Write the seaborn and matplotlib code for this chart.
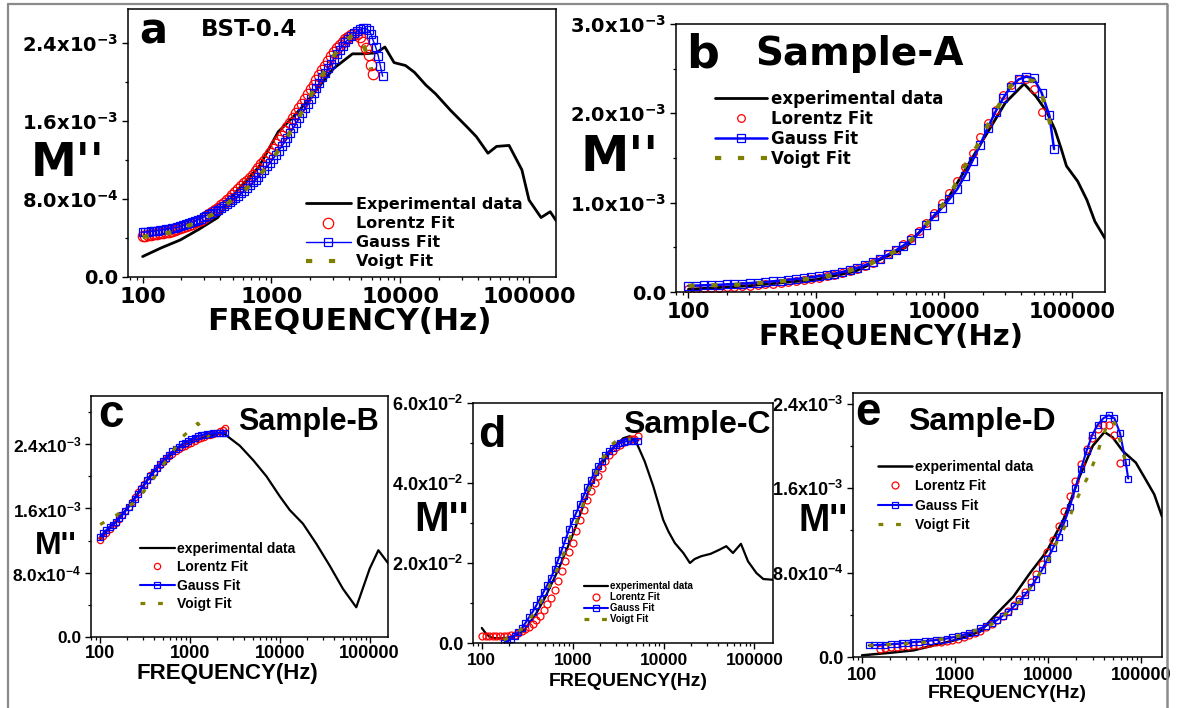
import numpy as np
import matplotlib
matplotlib.use("Agg")
import matplotlib.pyplot as plt
import seaborn as sns
from matplotlib.ticker import MultipleLocator, NullFormatter
from matplotlib.font_manager import FontProperties
from matplotlib.lines import Line2D

nan = np.nan

# ---------------- panel a : BST-0.4 (M'' in 1e-3) ----------------
exp_f_a = [100, 140, 196, 274, 383, 535, 800, 1130, 1470, 1920, 2500, 3040, 4260, 5200, 6500, 7600,
           8960, 11000, 12900, 15800, 18800, 24600, 33000, 39000, 48000, 56000, 70000, 88000, 100000,
           124000, 146000, 162000]
exp_m_a = [0.21, 0.30, 0.38, 0.49, 0.61, 0.88, 1.13, 1.49, 1.64, 1.81, 2.0, 2.14, 2.29, 2.29, 2.30, 2.36,
           2.20, 2.17, 2.10, 1.97, 1.88, 1.71, 1.54, 1.44, 1.27, 1.34, 1.35, 1.10, 0.79,
           0.61, 0.67, 0.58]
fit_f_a = [100, 105, 111, 117, 123, 129, 136, 143, 151, 159,
           168, 177, 186, 196, 206, 217, 229, 241, 254, 268,
           282, 297, 312, 329, 346, 365, 384, 405, 426, 449,
           473, 498, 524, 552, 582, 613, 645, 679, 715, 753,
           793, 835, 880, 927, 976, 1028, 1083, 1140, 1201, 1265,
           1332, 1403, 1477, 1556, 1638, 1725, 1817, 1914, 2016, 2123,
           2236, 2355, 2480, 2612, 2751, 2897, 3051, 3213, 3384, 3564,
           3754, 3953, 4164, 4385, 4619, 4850, 5124, 5400, 5683, 5950,
           6150, 6450, 6750, 7000, 7300]
lor_a = [0.42, 0.425, 0.43, 0.435, 0.44, 0.445, 0.45, 0.455, 0.46, 0.465,
         0.47, 0.48, 0.49, 0.50, 0.51, 0.52, 0.53, 0.545, 0.56, 0.575,
         0.59, 0.61, 0.63, 0.65, 0.67, 0.69, 0.71, 0.735, 0.76, 0.785,
         0.81, 0.84, 0.87, 0.90, 0.93, 0.96, 0.99, 1.02, 1.05, 1.085,
         1.12, 1.155, 1.19, 1.23, 1.27, 1.315, 1.36, 1.405, 1.45, 1.495,
         1.54, 1.585, 1.63, 1.68, 1.73, 1.78, 1.83, 1.88, 1.93, 1.975,
         2.02, 2.07, 2.12, 2.17, 2.22, 2.265, 2.31, 2.345, 2.38, 2.41,
         2.44, 2.46, 2.48, 2.49, 2.49, 2.46, 2.41, 2.35, 2.28, 2.18,
         2.08, nan, nan, nan, nan]
gau_a = [0.46, 0.462, 0.465, 0.468, 0.47, 0.475, 0.48, 0.485, 0.49, 0.495,
         0.50, 0.505, 0.51, 0.52, 0.53, 0.54, 0.55, 0.56, 0.57, 0.585,
         0.60, 0.615, 0.63, 0.645, 0.66, 0.675, 0.69, 0.71, 0.73, 0.75,
         0.77, 0.79, 0.81, 0.835, 0.86, 0.885, 0.91, 0.94, 0.97, 1.0,
         1.03, 1.065, 1.10, 1.135, 1.17, 1.21, 1.25, 1.295, 1.34, 1.385,
         1.43, 1.48, 1.53, 1.58, 1.63, 1.68, 1.73, 1.78, 1.83, 1.885,
         1.94, 1.995, 2.05, 2.095, 2.14, 2.19, 2.24, 2.285, 2.33, 2.37,
         2.41, 2.44, 2.47, 2.50, 2.52, 2.54, 2.55, 2.55, 2.53, 2.49,
         2.43, 2.36, 2.27, 2.17, 2.06]
voi_a = [0.41, 0.415, 0.42, 0.425, 0.43, 0.435, 0.44, 0.445, 0.45, 0.455,
         0.46, 0.47, 0.48, 0.49, 0.50, 0.515, 0.53, 0.54, 0.55, 0.565,
         0.58, 0.595, 0.61, 0.625, 0.64, 0.66, 0.68, 0.70, 0.72, 0.745,
         0.77, 0.79, 0.81, 0.835, 0.86, 0.885, 0.91, 0.94, 0.97, 1.0,
         1.03, 1.065, 1.10, 1.14, 1.18, 1.22, 1.26, 1.305, 1.35, 1.395,
         1.44, 1.49, 1.54, 1.59, 1.64, 1.695, 1.75, 1.805, 1.86, 1.915,
         1.97, 2.02, 2.07, 2.12, 2.17, 2.22, 2.27, 2.31, 2.35, 2.385,
         2.42, 2.445, 2.47, 2.475, 2.48, 2.45, 2.40, 2.32, 2.24, 2.13,
         nan, nan, nan, nan, nan]

# ---------------- panel b : Sample-A (1e-3) ----------------
exp_f_b = [100, 300, 1000, 2000, 5000, 10000, 15000, 20000, 30000, 42000, 52000, 63000, 73000, 82000,
           90000, 110000, 130000, 150000, 180000]
exp_m_b = [0.03, 0.07, 0.14, 0.23, 0.50, 0.98, 1.40, 1.70, 2.12, 2.33, 2.19, 2.02, 1.82, 1.60,
           1.41, 1.24, 1.03, 0.79, 0.60]
fit_f_b = [100, 115, 132, 151, 174, 200, 229, 263, 302, 347, 398, 457, 525, 603, 692, 794, 912, 1047, 1202,
           1380, 1585, 1820, 2089, 2399, 2754, 3162, 3631, 4169, 4786, 5495, 6310, 7244, 8318, 9550, 10965,
           12589, 14454, 16596, 19055, 21878, 25119, 28840, 33113, 38019, 43652, 50119, 57544, 66069, 72000]
lor_b = [0.03, 0.035, 0.04, 0.045, 0.05, 0.055, 0.06, 0.066, 0.072, 0.079, 0.086, 0.094, 0.10, 0.11, 0.12,
         0.13, 0.145, 0.16, 0.175, 0.19, 0.21, 0.235, 0.26, 0.29, 0.33, 0.37, 0.42, 0.47, 0.535, 0.60, 0.68,
         0.77, 0.88, 1.0, 1.11, 1.24, 1.40, 1.56, 1.73, 1.89, 2.04, 2.20, 2.32, 2.38, 2.38, 2.27, 2.01, nan, nan]
gau_b = [0.07, 0.072, 0.075, 0.078, 0.081, 0.085, 0.089, 0.094, 0.10, 0.106, 0.112, 0.12, 0.128, 0.137, 0.146,
         0.155, 0.166, 0.178, 0.19, 0.205, 0.222, 0.245, 0.27, 0.30, 0.335, 0.375, 0.42, 0.465, 0.52, 0.58,
         0.66, 0.75, 0.85, 0.94, 1.04, 1.15, 1.30, 1.47, 1.65, 1.84, 2.02, 2.17, 2.30, 2.38, 2.41, 2.39, 2.23,
         1.98, 1.60]
voi_b = [0.07, 0.072, 0.073, 0.075, 0.077, 0.079, 0.08, 0.085, 0.09, 0.10, 0.105, 0.11, 0.12, 0.127, 0.135,
         0.142, 0.152, 0.165, 0.178, 0.193, 0.215, 0.24, 0.265, 0.295, 0.33, 0.37, 0.415, 0.46, 0.515, 0.58,
         0.68, 0.76, 0.86, 0.96, 1.08, 1.24, 1.41, 1.55, 1.69, 1.87, 2.03, 2.17, 2.31, 2.36, 2.38, 2.36, 2.22,
         1.92, 1.72]

# ---------------- panel c : Sample-B (1e-3) ----------------
exp_f_c = [100, 200, 400, 800, 1500, 2340, 3590, 5060, 7100, 10000, 12900, 18100, 25500, 35800, 50400,
           70900, 100000, 125000, 160000]
exp_m_c = [1.22, 1.60, 2.08, 2.38, 2.50, 2.54, 2.38, 2.20, 2.0, 1.75, 1.58, 1.41, 1.16, 0.89, 0.60,
           0.37, 0.85, 1.08, 0.92]
fit_f_c = [100, 108, 117, 127, 138, 150, 162, 176, 191, 207, 224, 243, 263, 285, 309, 335, 363, 394, 427, 462,
           501, 543, 589, 638, 692, 750, 813, 881, 955, 1035, 1122, 1216, 1318, 1429, 1549, 1679, 1820, 1972,
           2138, 2317, 2450]
lor_c = [1.21, 1.26, 1.30, 1.35, 1.39, 1.42, 1.47, 1.52, 1.57, 1.62, 1.68, 1.74, 1.80, 1.85, 1.91, 1.96, 2.02,
         2.06, 2.10, 2.14, 2.18, 2.22, 2.25, 2.28, 2.31, 2.34, 2.36, 2.38, 2.40, 2.42, 2.44, 2.46, 2.48, 2.49,
         2.51, 2.52, 2.53, 2.54, 2.56, 2.58, 2.60]
gau_c = [1.25, 1.29, 1.33, 1.37, 1.40, 1.43, 1.48, 1.52, 1.57, 1.62, 1.67, 1.72, 1.78, 1.84, 1.89, 1.95, 2.0,
         2.05, 2.10, 2.15, 2.19, 2.23, 2.27, 2.31, 2.34, 2.37, 2.40, 2.42, 2.44, 2.46, 2.48, 2.50, 2.51, 2.52,
         2.53, 2.53, 2.54, 2.54, 2.54, 2.54, 2.54]
voi_f_c = [100, 153, 235, 345, 465, 625, 820, 1220, 1630]
voi_c = [1.40, 1.52, 1.67, 1.88, 2.09, 2.29, 2.49, 2.66, 2.49]

# ---------------- panel d : Sample-C (1e-2) ----------------
exp_f_d = [100, 110, 122, 140, 170, 200, 250, 300, 400, 500, 700, 1000, 1500, 2000, 2700, 3600, 4240, 5050,
           6200, 7700, 9900, 11300, 13300, 16500, 19500, 22000, 26000, 33000, 41000, 49000, 58000, 71000,
           85000, 105000, 125000, 160000]
exp_m_d = [0.375, 0.25, 0.15, 0.12, 0.12, 0.14, 0.22, 0.35, 0.75, 1.15, 1.85, 2.7, 3.8, 4.4, 4.85, 5.12, 5.17,
           5.0, 4.54, 3.92, 3.08, 2.79, 2.5, 2.25, 2.0, 2.1, 2.17, 2.23, 2.33, 2.42, 2.25, 2.48, 2.04, 1.75,
           1.6, 1.58]
fit_f_d = [100, 110, 120, 132, 145, 158, 174, 191, 209, 229, 251, 275, 302, 331, 363, 398, 437, 479, 525, 575,
           631, 692, 759, 832, 912, 1000, 1096, 1202, 1318, 1445, 1585, 1738, 1905, 2089, 2291, 2512, 2754,
           3020, 3311, 3631, 3981, 4365, 4786, 5248]
lor_d = [0.18, 0.18, 0.18, 0.18, 0.18, 0.18, 0.18, 0.18, 0.19, 0.21, 0.25, 0.29, 0.35, 0.40, 0.48, 0.58, 0.67,
         0.82, 0.98, 1.13, 1.33, 1.54, 1.80, 2.06, 2.28, 2.50, 2.79, 3.08, 3.33, 3.58, 3.79, 3.99, 4.17, 4.38,
         4.55, 4.70, 4.80, 4.90, 4.96, 5.02, 5.06, 5.09, 5.11, 5.18]
gau_d = [nan, nan, nan, nan, nan, nan, 0.0, 0.04, 0.10, 0.18, 0.27, 0.37, 0.50, 0.64, 0.78, 0.94, 1.11, 1.28,
         1.45, 1.62, 1.84, 2.08, 2.33, 2.58, 2.84, 3.06, 3.26, 3.47, 3.68, 3.89, 4.07, 4.27, 4.43, 4.55, 4.70,
         4.80, 4.87, 4.95, 5.00, 5.03, 5.05, 5.06, 5.06, 5.06]
voi_d = [nan, nan, nan, nan, nan, nan, 0.07, 0.12, 0.17, 0.20, 0.28, 0.36, 0.46, 0.58, 0.70, 0.83, 0.99, 1.15,
         1.32, 1.50, 1.68, 1.89, 2.12, 2.35, 2.58, 2.80, 3.01, 3.26, 3.50, 3.72, 3.94, 4.14, 4.39, 4.55, 4.75,
         4.92, 4.98, 5.05, 5.08, 5.09, 5.10, 5.10, nan, nan]

# ---------------- panel e : Sample-D (1e-3) ----------------
exp_f_e = [100, 200, 358, 1000, 1850, 2790, 4200, 6300, 9600, 14500, 21700, 30000, 40000, 49000, 63000,
           87000, 111000, 137000, 166000]
exp_m_e = [0.016, 0.04, 0.063, 0.16, 0.24, 0.41, 0.57, 0.79, 1.0, 1.30, 1.71, 2.0, 2.13, 2.08, 1.95,
           1.84, 1.68, 1.54, 1.33]
fit_f_e = [118, 135, 155, 178, 205, 235, 270, 310, 356, 408, 469, 538, 618, 709, 814, 935, 1073, 1232, 1414,
           1624, 1864, 2140, 2457, 2821, 3238, 3718, 4268, 4900, 5626, 6459, 7415, 8513, 9773, 11220, 12882,
           14789, 16979, 19493, 22379, 25693, 29497, 33864, 38878, 44635, 51245, 58832, 67543, 72000]
lor_e = [nan, nan, 0.08, 0.085, 0.09, 0.095, 0.10, 0.105, 0.11, 0.115, 0.12, 0.13, 0.14, 0.145, 0.155, 0.165,
         0.175, 0.19, 0.21, 0.23, 0.25, 0.28, 0.31, 0.35, 0.39, 0.44, 0.49, 0.55, 0.62, 0.71, 0.79, 0.88, 0.99,
         1.11, 1.24, 1.38, 1.52, 1.67, 1.83, 1.97, 2.07, 2.16, 2.20, 2.20, 2.10, 1.84, nan, nan]
gau_e = [0.11, 0.112, 0.115, 0.118, 0.12, 0.125, 0.13, 0.135, 0.14, 0.145, 0.15, 0.155, 0.16, 0.165, 0.175,
         0.185, 0.195, 0.21, 0.225, 0.24, 0.27, 0.295, 0.32, 0.35, 0.39, 0.43, 0.48, 0.53, 0.59, 0.66, 0.74,
         0.82, 0.93, 1.03, 1.14, 1.27, 1.42, 1.60, 1.78, 1.95, 2.10, 2.20, 2.26, 2.29, 2.26, 2.12, 1.85, 1.69]
voi_e = [0.11, 0.112, 0.115, 0.118, 0.12, 0.123, 0.125, 0.128, 0.13, 0.135, 0.14, 0.15, 0.16, 0.17, 0.18,
         0.19, 0.20, 0.22, 0.235, 0.25, 0.265, 0.28, 0.31, 0.35, 0.38, 0.43, 0.48, 0.53, 0.59, 0.66, 0.74,
         0.82, 0.90, 1.00, 1.13, 1.22, 1.33, 1.46, 1.58, 1.68, 1.80, 1.94, 2.10, 2.24, 2.22, 2.05, 1.84, nan]

x_ticks = [100, 1000, 10000, 100000]
x_labels = ["100", "1000", "10000", "100000"]
lab_24 = ["0.0", r"8.0x10$^{-4}$", r"1.6x10$^{-3}$", r"2.4x10$^{-3}$"]
lab_30 = ["0.0", r"1.0x10$^{-3}$", r"2.0x10$^{-3}$", r"3.0x10$^{-3}$"]
lab_60 = ["0.0", r"2.0x10$^{-2}$", r"4.0x10$^{-2}$", r"6.0x10$^{-2}$"]
leg_a = ["Experimental data", "Lorentz Fit", "Gauss Fit", "Voigt Fit"]
leg_b = ["experimental data", "Lorentz Fit", "Gauss Fit", "Voigt Fit"]

sns.set_style("ticks")
plt.rcParams["font.family"] = ["DejaVu Sans"]
plt.rcParams["font.weight"] = "bold"
plt.rcParams["text.color"] = "black"
plt.rcParams["mathtext.fontset"] = "custom"
plt.rcParams["mathtext.rm"] = "Liberation Sans:bold"
plt.rcParams["mathtext.bf"] = "Liberation Sans:bold"
plt.rcParams["mathtext.default"] = "bf"
plt.rcParams["axes.edgecolor"] = "black"
plt.rcParams["xtick.color"] = "black"
plt.rcParams["ytick.color"] = "black"

W, H = 1182, 708
fig = plt.figure(figsize=(W / 100, H / 100), dpi=100)


def fx(x):
    return x / W


def fy(y):
    return 1 - y / H


def box(l, t, r, b):
    return [fx(l), fy(b), (r - l) / W, (b - t) / H]


def draw(p):
    ax = fig.add_axes(box(*p["rect"]))
    sc = p["scale"]
    fam, mfam = p["fam"], p["mfam"]
    sns.lineplot(x=p["exp"][0], y=np.array(p["exp"][1]) * sc, ax=ax, color="black", lw=p["lw"],
                 estimator=None, sort=False, legend=False)
    sns.lineplot(x=p["fit_f"], y=np.array(p["lor"]) * sc, ax=ax, color="red", linestyle="none",
                 marker="o", ms=p["ms_o"], mfc="none", mec="red", mew=0.9,
                 estimator=None, sort=False, legend=False)
    sns.lineplot(x=p["fit_f"], y=np.array(p["gau"]) * sc, ax=ax, color="blue", lw=p["lw_g"],
                 marker="s", ms=p["ms_s"], mfc="none", mec="blue", mew=0.9,
                 estimator=None, sort=False, legend=False)
    sns.lineplot(x=p["voi_f"], y=np.array(p["voi"]) * sc, ax=ax, color="#808000", lw=p["lw_v"],
                 linestyle=(0, (1.5, 4)), estimator=None, sort=False, legend=False)
    ax.set_xscale("log")
    ax.set_xlim(*p["xlim"])
    ax.set_ylim(*p["ylim"])
    ax.set_xlabel("")
    ax.set_ylabel("")
    ax.set_xticks(x_ticks, x_labels, fontsize=p["xsz"], fontfamily=fam, fontweight="bold")
    ax.xaxis.set_minor_formatter(NullFormatter())
    ax.set_yticks(p["yt"], p["ylab"], fontsize=p["ysz"], fontfamily=fam, fontweight="bold",
                  math_fontfamily=mfam)
    ax.yaxis.set_minor_locator(MultipleLocator(p["ymin"]))
    ax.tick_params(which="major", length=4, width=1.0, pad=3)
    ax.tick_params(axis="x", which="major", pad=p.get("xpad", 3))
    ax.tick_params(which="minor", length=2.5, width=0.9)
    for s in ax.spines.values():
        s.set_visible(True)
        s.set_linewidth(1.1)
        s.set_color("black")
    lg = p["leg"]
    ax.legend(ax.get_lines()[:4], p["leg_lab"], loc="upper left",
              bbox_to_anchor=(fx(lg["x"]), fy(lg["y"])), bbox_transform=fig.transFigure,
              frameon=False, borderpad=0, borderaxespad=0, numpoints=1,
              prop=FontProperties(family=fam, weight="bold", size=lg["size"]),
              labelspacing=lg["ls"], handlelength=lg["hl"], handletextpad=lg["tp"])
    for (s, x, y, size, ha, va) in p["texts"]:
        fig.text(fx(x), fy(y), s, fontsize=size, fontfamily=fam, fontweight="bold", ha=ha, va=va)
    return ax


TOP = "DejaVu Sans"
BOT = "Liberation Sans"

panels = [
    dict(rect=(128, 9, 556, 277), xlim=(77, 162000), ylim=(0, 2.75e-3), scale=1e-3, fam=TOP,
         mfam="dejavusans", exp=(exp_f_a, exp_m_a), fit_f=fit_f_a, lor=lor_a, gau=gau_a,
         voi_f=fit_f_a, voi=voi_a, lw=2.0, ms_o=7.5, ms_s=6, lw_g=1.0, lw_v=3.0,
         yt=[0, 0.8e-3, 1.6e-3, 2.4e-3], ylab=lab_24, ymin=0.4e-3, xsz=16, ysz=14,
         leg=dict(x=306, y=197, size=11.5, ls=0.26, hl=2.8, tp=0.35), leg_lab=leg_a,
         texts=[("a", 153, 43, 30, "center", "baseline"), ("BST-0.4", 201, 36, 16.5, "left", "baseline"),
                ("M''", 68, 163, 33, "center", "center"),
                ("FREQUENCY(Hz)", 349, 321, 22.5, "center", "center")]),
    dict(rect=(676, 24, 1105, 292), xlim=(80, 180000), ylim=(0, 3.0e-3), scale=1e-3, fam=TOP,
         mfam="dejavusans", exp=(exp_f_b, exp_m_b), fit_f=fit_f_b, lor=lor_b, gau=gau_b,
         voi_f=fit_f_b, voi=voi_b, lw=2.0, ms_o=5.5, ms_s=5.5, lw_g=1.8, lw_v=3.0,
         yt=[0, 1e-3, 2e-3, 3e-3], ylab=lab_30, ymin=0.5e-3, xsz=15, ysz=14,
         leg=dict(x=715, y=90, size=12, ls=0.11, hl=3.1, tp=0.25), leg_lab=leg_b,
         texts=[("b", 703, 67, 33, "center", "baseline"), ("Sample-A", 755, 65, 28, "left", "baseline"),
                ("M''", 620, 157, 35, "center", "center"),
                ("FREQUENCY(Hz)", 891, 337, 21, "center", "center")]),
    dict(rect=(91, 396, 388, 637), xlim=(79, 160000), ylim=(0, 3.0e-3), scale=1e-3, fam=BOT,
         mfam="custom", exp=(exp_f_c, exp_m_c), fit_f=fit_f_c, lor=lor_c, gau=gau_c,
         voi_f=voi_f_c, voi=voi_c, lw=1.6, ms_o=4.5, ms_s=4.5, lw_g=1.5, lw_v=2.3,
         yt=[0, 0.8e-3, 1.6e-3, 2.4e-3], ylab=lab_24, ymin=0.4e-3, xsz=13, ysz=12.5, xpad=2,
         leg=dict(x=140, y=542, size=10, ls=0.31, hl=2.5, tp=0.15), leg_lab=leg_b,
         texts=[("c", 111, 427, 33, "center", "baseline"), ("Sample-B", 238, 430, 22, "left", "baseline"),
                ("M''", 56, 546, 23, "center", "center"),
                ("FREQUENCY(Hz)", 227, 674, 16, "center", "center")]),
    dict(rect=(473, 403, 773, 643), xlim=(80, 160000), ylim=(0, 6.0e-2), scale=1e-2, fam=BOT,
         mfam="custom", exp=(exp_f_d, exp_m_d), fit_f=fit_f_d, lor=lor_d, gau=gau_d,
         voi_f=fit_f_d, voi=voi_d, lw=1.6, ms_o=5, ms_s=5, lw_g=1.5, lw_v=2.3,
         yt=[0, 2e-2, 4e-2, 6e-2], ylab=lab_60, ymin=1e-2, xsz=12.5, ysz=13,
         leg=dict(x=584, y=581, size=7, ls=0.12, hl=2.5, tp=0.2), leg_lab=leg_b,
         texts=[("d", 492, 447, 32, "center", "baseline"), ("Sample-C", 623, 433, 23, "left", "baseline"),
                ("M''", 442, 520, 30, "center", "center"),
                ("FREQUENCY(Hz)", 628, 682, 14, "center", "center")]),
    dict(rect=(853, 393, 1162, 657), xlim=(80, 166000), ylim=(0, 2.5e-3), scale=1e-3, fam=BOT,
         mfam="custom", exp=(exp_f_e, exp_m_e), fit_f=fit_f_e, lor=lor_e, gau=gau_e,
         voi_f=fit_f_e, voi=voi_e, lw=1.8, ms_o=5, ms_s=5, lw_g=1.5, lw_v=2.3,
         yt=[0, 0.8e-3, 1.6e-3, 2.4e-3], ylab=lab_24, ymin=0.4e-3, xsz=13, ysz=13,
         leg=dict(x=878, y=460, size=10, ls=0.38, hl=2.45, tp=0.2), leg_lab=leg_b,
         texts=[("e", 868, 425, 33, "center", "baseline"), ("Sample-D", 908, 430, 23, "left", "baseline"),
                ("M''", 823, 521, 27, "center", "center"),
                ("FREQUENCY(Hz)", 1007, 693, 14, "center", "center")]),
]

for p in panels:
    draw(p)

# grey frame of the composite figure
gray = "#8a8a8a"
fig.add_artist(Line2D([fx(7.5), fx(7.5)], [fy(4), fy(708)], color=gray, lw=1.6))
fig.add_artist(Line2D([fx(7.5), fx(1167)], [fy(4), fy(4)], color=gray, lw=1.6))
fig.add_artist(Line2D([fx(1167), fx(1167)], [fy(4), fy(708)], color=gray, lw=1.8))

fig.savefig("out.png", dpi=100, facecolor="white")
